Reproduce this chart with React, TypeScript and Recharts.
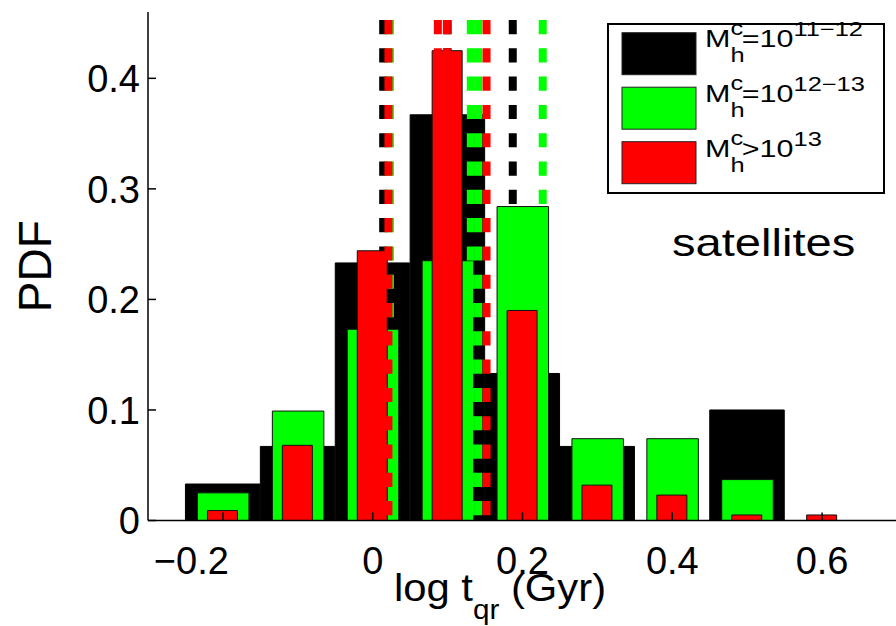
import React from "react";
import {
  ComposedChart,
  Bar,
  XAxis,
  YAxis,
  ReferenceLine,
  Legend,
  Customized,
} from "recharts";

const FONT = "'Liberation Sans', Arial, Helvetica, sans-serif";

// histogram bin centres, log t_qr (Gyr)
const bins = [-0.2, -0.1, 0, 0.1, 0.2, 0.3, 0.4, 0.5, 0.6];
const pdfLow = [0.033, 0.067, 0.233, 0.367, 0.133, 0.067, 0, 0.1, 0];
const pdfMid = [0.025, 0.099, 0.173, 0.235, 0.284, 0.074, 0.074, 0.037, 0];
const pdfHigh = [0.009, 0.068, 0.244, 0.425, 0.19, 0.032, 0.023, 0.005, 0.005];

// dashed markers for each halo mass bin
const markLow = [0.014, 0.1, 0.187];
const markMid = [0.023, 0.131, 0.141, 0.227];
const markHigh = [0.021, 0.087, 0.099, 0.152];

const xTicks = [-0.2, 0, 0.2, 0.4, 0.6];
const yTicks = [0, 0.1, 0.2, 0.3, 0.4];

const names = ["Mhc=10^11-12", "Mhc=10^12-13", "Mhc>10^13"];
const legendRel = ["=", "=", ">"];
const legendExp = ["11\u221212", "12\u221213", "13"];

const data = bins.map((bin, i) => ({
  bin,
  low: pdfLow[i],
  mid: pdfMid[i],
  high: pdfHigh[i],
}));

const dash = {
  strokeWidth: 8,
  strokeDasharray: "14.15 14.15",
  strokeDashoffset: 23.05,
};

const fmt = (v: number) =>
  v === 0 ? "0" : (v < 0 ? "\u2212" : "") + Math.abs(v).toFixed(1);

const XTick = (props: any) => {
  const { x, y, payload } = props;
  const neg = payload.value < 0;
  return (
    <text
      x={neg ? x + 6 : x}
      y={y}
      textAnchor={neg ? "end" : "middle"}
      dy="0.71em"
      fontSize={38}
      fontFamily={FONT}
      fill="#000"
    >
      {fmt(payload.value)}
    </text>
  );
};

const YTick = (props: any) => {
  const { x, y, payload } = props;
  return (
    <text x={x} y={y} textAnchor="end" dy="0.36em" fontSize={38} fontFamily={FONT} fill="#000">
      {fmt(payload.value)}
    </text>
  );
};

const XLabel = (props: any) => {
  const vb = props.viewBox;
  return (
    <g transform={`translate(${vb.x + 352},${vb.y + 80.5}) scale(1.1,1)`}>
      <text textAnchor="middle" fontSize={38} fontFamily={FONT} fill="#000">
        log t
        <tspan fontSize={27} dy={18}>qr</tspan>
        <tspan dy={-18}> (Gyr)</tspan>
      </text>
    </g>
  );
};

const YLabel = (props: any) => {
  const vb = props.viewBox;
  return (
    <g transform={`translate(${vb.x + 34},${vb.y + vb.height / 2}) rotate(-90)`}>
      <text textAnchor="middle" dy="0.36em" fontSize={46} fontFamily={FONT} fill="#000">
        PDF
      </text>
    </g>
  );
};

const renderLegend = (props: any) => {
  const payload = props.payload || [];
  return (
    <svg width={280} height={190} style={{ display: "block", overflow: "visible" }}>
      <rect x={1} y={14} width={276} height={169} fill="#fff" stroke="#000" strokeWidth={2} />
      {payload.map((entry: any, i: number) => {
        const py = 22.7 + i * 54.5;
        const by = 37 + i * 54.8;
        return (
          <g key={i}>
            <rect x={15} y={py} width={74} height={42} fill={entry.color} stroke="#222" strokeWidth={1} />
            <g transform={`translate(98,${by}) scale(1.27,1)`} fontFamily={FONT} fill="#000">
              <text fontSize={24}>M</text>
              <text x={20} y={-12} fontSize={20}>c</text>
              <text x={20} y={15} fontSize={20}>h</text>
              <text x={29} fontSize={24}>{legendRel[i] + "10"}</text>
              <text x={69.7} y={-11} fontSize={20}>{legendExp[i]}</text>
            </g>
          </g>
        );
      })}
    </svg>
  );
};

export default function App() {
  return (
    <div
      style={{
        position: "absolute",
        left: 0,
        top: 0,
        width: 896,
        height: 626,
        overflow: "hidden",
        background: "#fff",
      }}
    >
      <ComposedChart
        width={900}
        height={626}
        data={data}
        margin={{ top: 12, right: 3, bottom: 0, left: 0 }}
      >
        <XAxis
          xAxisId="k"
          dataKey="bin"
          type="number"
          domain={[-0.3, 0.7]}
          ticks={xTicks}
          height={105.5}
          tickSize={-8}
          tickMargin={34.5}
          tick={<XTick />}
          axisLine={{ stroke: "#000", strokeWidth: 1.5 }}
          tickLine={{ stroke: "#000", strokeWidth: 1.5 }}
          label={{ content: (p: any) => <XLabel {...p} /> }}
        />
        <XAxis xAxisId="g" dataKey="bin" type="number" domain={[-0.3, 0.7]} height={0} hide />
        <XAxis xAxisId="r" dataKey="bin" type="number" domain={[-0.3, 0.7]} height={0} hide />
        <XAxis
          xAxisId="top"
          orientation="top"
          dataKey="bin"
          type="number"
          domain={[-0.3, 0.7]}
          ticks={xTicks}
          height={0}
          tick={false}
          tickSize={-8}
          axisLine={{ stroke: "#000", strokeWidth: 1.5 }}
          tickLine={{ stroke: "#000", strokeWidth: 1.5 }}
        />
        <YAxis
          yAxisId="l"
          type="number"
          domain={[0, 0.46]}
          ticks={yTicks}
          width={148}
          tickSize={-8}
          tickMargin={16}
          tick={<YTick />}
          axisLine={{ stroke: "#000", strokeWidth: 1.5 }}
          tickLine={{ stroke: "#000", strokeWidth: 1.5 }}
          label={{ content: (p: any) => <YLabel {...p} /> }}
        />
        <YAxis
          yAxisId="rr"
          orientation="right"
          type="number"
          domain={[0, 0.46]}
          ticks={yTicks}
          width={0}
          tick={false}
          tickSize={-8}
          axisLine={{ stroke: "#000", strokeWidth: 1.5 }}
          tickLine={{ stroke: "#000", strokeWidth: 1.5 }}
        />

        <Bar
          xAxisId="k"
          yAxisId="l"
          dataKey="low"
          name={names[0]}
          fill="#000000"
          stroke="#000"
          strokeWidth={1}
          barSize={74.5}
          isAnimationActive={false}
          zIndex={301}
        />
        {markLow.map((v) => (
          <ReferenceLine key={"k" + v} x={v} xAxisId="k" yAxisId="l" stroke="#000000" {...dash} zIndex={302} />
        ))}
        <Bar
          xAxisId="g"
          yAxisId="l"
          dataKey="mid"
          name={names[1]}
          fill="#00ff00"
          stroke="#111"
          strokeWidth={1}
          barSize={51.5}
          isAnimationActive={false}
          zIndex={303}
        />
        {markMid.map((v) => (
          <ReferenceLine key={"g" + v} x={v} xAxisId="g" yAxisId="l" stroke="#00ff00" {...dash} zIndex={304} />
        ))}
        <Bar
          xAxisId="r"
          yAxisId="l"
          dataKey="high"
          name={names[2]}
          fill="#ff0000"
          stroke="#111"
          strokeWidth={1}
          barSize={30}
          isAnimationActive={false}
          zIndex={305}
        />
        {markHigh.map((v) => (
          <ReferenceLine key={"r" + v} x={v} xAxisId="r" yAxisId="l" stroke="#ff0000" {...dash} zIndex={306} />
        ))}

        <Customized
          component={() => (
            <g transform="translate(672,256) scale(1.24,1)">
              <text fontSize={38} fontFamily={FONT} fill="#000">
                satellites
              </text>
            </g>
          )}
        />
        <Legend
          layout="vertical"
          align="center"
          verticalAlign="middle"
          content={renderLegend}
          wrapperStyle={{ position: "absolute", left: 607, top: 10, width: 280, height: 190 }}
        />
      </ComposedChart>
    </div>
  );
}
